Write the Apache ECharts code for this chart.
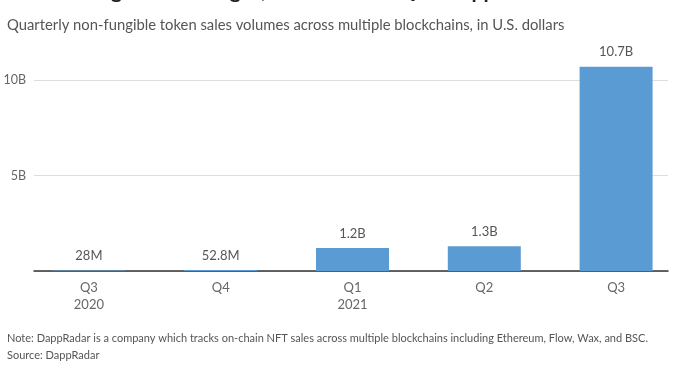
<!DOCTYPE html>
<html><head><meta charset="utf-8">
<script src="https://cdn.jsdelivr.net/npm/echarts@6/dist/echarts.min.js"></script>
<style>html,body{margin:0;padding:0;background:#fff}#c{width:685px;height:374px}</style>
</head><body><div id="c"></div>
<script>
var categories = ['Q3\n2020', 'Q4', 'Q1\n2021', 'Q2', 'Q3'];
var valuesB = [0.028, 0.0528, 1.2, 1.3, 10.7];
var valueLabels = ['28M', '52.8M', '1.2B', '1.3B', '10.7B'];
var yTicks = {0: '', 5: '5B', 10: '10B'};

var font = 'Lato';
var chart = echarts.init(document.getElementById('c'), null, {renderer: 'canvas'});
chart.setOption({
  animation: false,
  backgroundColor: '#fff',
  title: [
    {text: 'NFT trading volume surges, hits record in Q3 - DappRadar',
     left: 10, top: -19, padding: 0, textStyle: {fontFamily: font, fontSize: 21, fontWeight: 'bold', color: '#222', lineHeight: 21}},
    {text: 'Quarterly non-fungible token sales volumes across multiple blockchains, in U.S. dollars',
     left: 7, top: 17, padding: 0, textStyle: {fontFamily: font, fontSize: 14.8, fontWeight: 'normal', color: '#555', lineHeight: 16}},
    {text: 'Note: DappRadar is a company which tracks on-chain NFT sales across multiple blockchains including Ethereum, Flow, Wax, and BSC.\nSource: DappRadar',
     left: 7, top: 330, padding: 0, textStyle: {fontFamily: font, fontSize: 11, fontWeight: 'normal', color: '#555', lineHeight: 17}}
  ],
  grid: [
    {left: 23, right: 3, top: 80, bottom: 103},
    {left: 34, right: 17, top: 80, bottom: 103}
  ],
  xAxis: [
    {type: 'category', gridIndex: 0, data: categories,
     axisLine: {show: false}, axisTick: {show: false},
     axisLabel: {margin: 8, fontFamily: font, fontSize: 13, color: '#666', lineHeight: 17}},
    {type: 'category', gridIndex: 1, data: [''], axisLine: {show: true, lineStyle: {color: '#333', width: 1.5}},
     axisTick: {show: false}, axisLabel: {show: false}}
  ],
  yAxis: [
    {type: 'value', gridIndex: 0, min: 0, max: 10, interval: 5, show: false, splitLine: {show: false}},
    {type: 'value', gridIndex: 1, min: 0, max: 10, interval: 5,
     axisLine: {show: false}, axisTick: {show: false},
     splitLine: {lineStyle: {color: '#ddd', width: 1}},
     axisLabel: {margin: 8, fontFamily: font, fontSize: 12.5, color: '#666',
       formatter: function (v) { return yTicks[v] !== undefined ? yTicks[v] : ''; }}}
  ],
  series: [{
    type: 'bar', xAxisIndex: 0, yAxisIndex: 0, data: valuesB, barWidth: 73, clip: false,
    itemStyle: {color: '#5b9bd3'},
    label: {show: true, position: 'top', distance: 8, fontFamily: font, fontSize: 13, color: '#555',
      formatter: function (p) { return valueLabels[p.dataIndex]; }}
  }]
});
</script></body></html>
